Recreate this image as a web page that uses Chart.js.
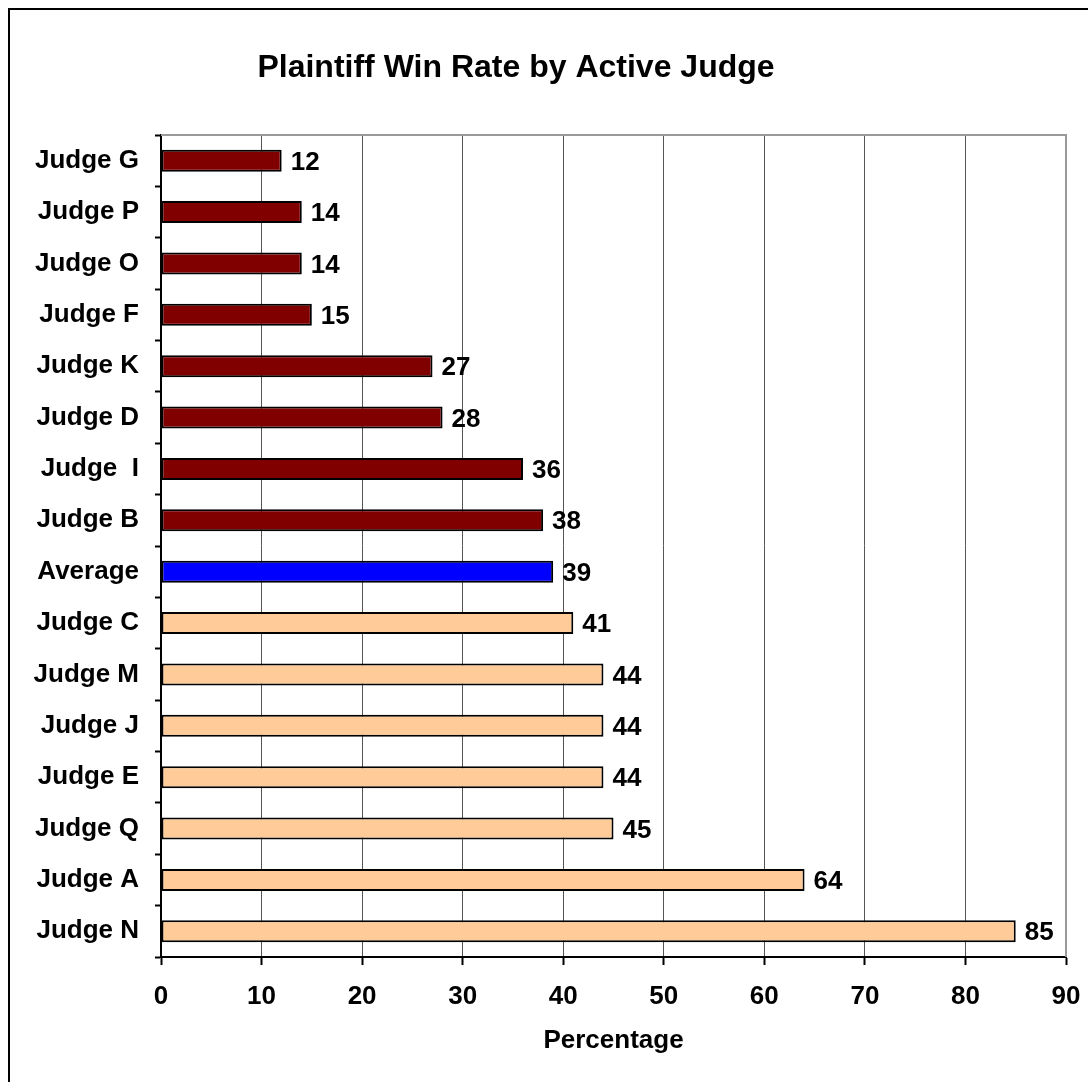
<!DOCTYPE html>
<html>
<head>
<meta charset="utf-8">
<script src="https://cdn.jsdelivr.net/npm/chart.js@4/dist/chart.umd.min.js"></script>
<style>
  html, body { margin: 0; padding: 0; background: #fff; }
  canvas { display: block; }
</style>
</head>
<body>
<canvas id="chart" width="1088" height="1082"></canvas>
<script>
// Judges, top to bottom
const judges = ['Judge G', 'Judge P', 'Judge O', 'Judge F', 'Judge K', 'Judge D', 'Judge  I', 'Judge B',
                'Average', 'Judge C', 'Judge M', 'Judge J', 'Judge E', 'Judge Q', 'Judge A', 'Judge N'];
// Plaintiff win rate, percent
const winRates = [12, 14, 14, 15, 27, 28, 36, 38, 39, 41, 44, 44, 44, 45, 64, 85];
// Whether each judge sits below or above the average
const groups = ['below', 'below', 'below', 'below', 'below', 'below', 'below', 'below',
                'average', 'above', 'above', 'above', 'above', 'above', 'above', 'above'];
const xTickValues = [0, 10, 20, 30, 40, 50, 60, 70, 80, 90];

const groupColors = { below: '#800000', average: '#0000FF', above: '#FFCC99' };
const FONT = '"Liberation Sans", Arial, sans-serif';
const PLOT_RIGHT = 1066;

// Outer frame behind everything
const framePlugin = {
  id: 'frame',
  beforeDraw(chart) {
    const ctx = chart.ctx;
    ctx.save();
    ctx.fillStyle = '#fff';
    ctx.fillRect(0, 0, chart.width, chart.height);
    ctx.strokeStyle = '#000';
    ctx.lineWidth = 2;
    ctx.strokeRect(9, 9, chart.width + 20, chart.height + 20);
    ctx.restore();
  }
};

// Title, plot-area top/right edges and value labels
const overlayPlugin = {
  id: 'overlay',
  afterDraw(chart) {
    const ctx = chart.ctx;
    const area = chart.chartArea;
    ctx.save();

    ctx.strokeStyle = '#999';
    ctx.lineWidth = 2;
    ctx.beginPath();
    ctx.moveTo(area.left, area.top);
    ctx.lineTo(area.right, area.top);
    ctx.lineTo(area.right, area.bottom);
    ctx.stroke();

    ctx.fillStyle = '#000';
    ctx.font = 'bold 32px ' + FONT;
    ctx.textAlign = 'center';
    ctx.textBaseline = 'alphabetic';
    ctx.fillText('Plaintiff Win Rate by Active Judge', 516, 77);

    ctx.font = 'bold 26px ' + FONT;
    ctx.textAlign = 'left';
    ctx.textBaseline = 'middle';
    const meta = chart.getDatasetMeta(0);
    meta.data.forEach((bar, i) => {
      ctx.fillText(String(winRates[i]), bar.x + 9, bar.y + 2);
    });
    ctx.restore();
  }
};

new Chart(document.getElementById('chart'), {
  type: 'bar',
  data: {
    labels: judges,
    datasets: [{
      data: winRates,
      backgroundColor: groups.map(g => groupColors[g]),
      borderColor: '#000',
      borderWidth: 2,
      borderSkipped: false,
      categoryPercentage: 1,
      barPercentage: 0.43
    }]
  },
  options: {
    indexAxis: 'y',
    responsive: false,
    animation: false,
    events: [],
    layout: { padding: { top: 135, left: 0, right: 0, bottom: 0 } },
    plugins: {
      legend: { display: false },
      title: { display: false },
      tooltip: { enabled: false }
    },
    scales: {
      x: {
        min: 0,
        max: 90,
        afterBuildTicks(scale) {
          scale.ticks = xTickValues.map(v => ({ value: v }));
        },
        afterFit(scale) {
          scale.height = 125;
          scale.paddingRight = scale.chart.width - PLOT_RIGHT;
        },
        grid: {
          color: '#555',
          lineWidth: 1,
          tickColor: '#000',
          tickLength: 8,
          tickWidth: 2
        },
        border: { display: true, color: '#000', width: 2 },
        ticks: {
          color: '#000',
          padding: 16,
          font: { family: FONT, size: 26, weight: 'bold' }
        },
        title: {
          display: true,
          text: 'Percentage',
          color: '#000',
          padding: { top: 0, bottom: 26 },
          font: { family: FONT, size: 26, weight: 'bold' }
        }
      },
      y: {
        afterFit(scale) { scale.width = 161; },
        grid: {
          offset: true,
          drawOnChartArea: false,
          drawTicks: true,
          tickLength: 6,
          tickColor: '#000',
          tickWidth: 2
        },
        border: { display: true, color: '#000', width: 2 },
        ticks: {
          color: '#000',
          padding: 16,
          font: { family: FONT, size: 26, weight: 'bold' }
        }
      }
    }
  },
  plugins: [framePlugin, overlayPlugin]
});
</script>
</body>
</html>
